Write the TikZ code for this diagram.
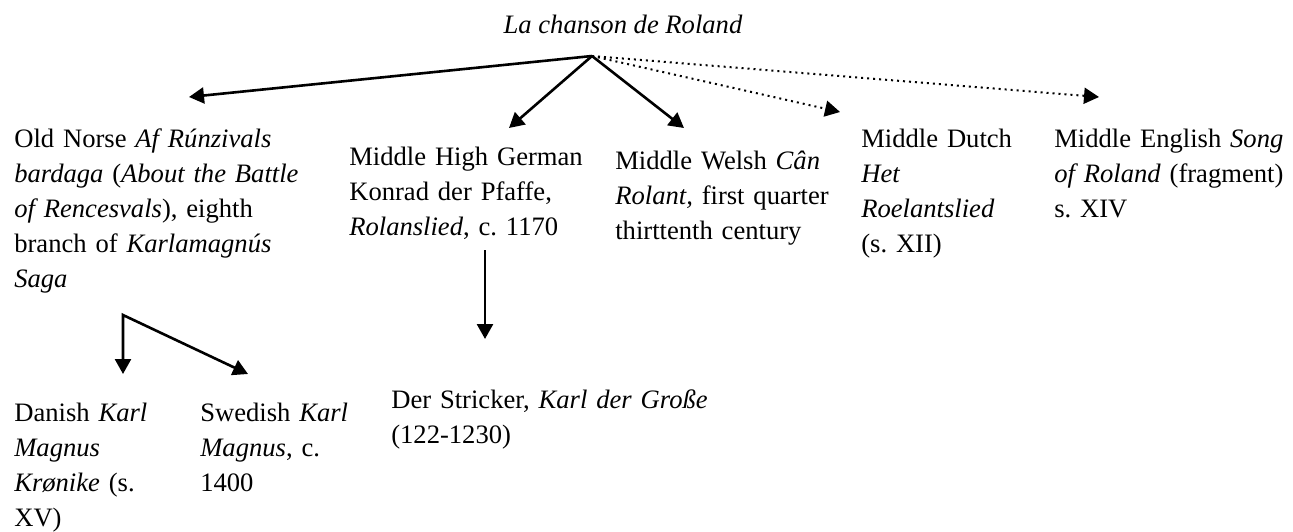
\documentclass[tikz,border=0pt]{standalone}
\usepackage{fontspec}
\setmainfont{Liberation Serif}
\frenchspacing
\usetikzlibrary{arrows.meta}

\begin{document}
\begin{tikzpicture}[
    x=0.5pt, y=-0.5pt,
    txt/.style={anchor=base west, align=left, inner sep=0pt, text width=6cm,
                font=\fontsize{13.3}{17.5}\selectfont},
    >={Triangle[length=7.5pt,width=8pt]},
    line width=1.3pt
]
\useasboundingbox (0,0) rectangle (1293,531);

\node[txt, anchor=base, text width=] (roland) at (623,33) {\textit{La chanson de Roland}};

\node[txt] (norse) at (13,147) {Old Norse \textit{Af Rúnzivals}\\
  \textit{bardaga} (\textit{About the Battle}\\
  \textit{of Rencesvals}), eighth\\
  branch of \textit{Karlamagnús}\\
  \textit{Saga}};
\node[txt] (mhg) at (348,165) {Middle High German\\
  Konrad der Pfaffe,\\
  \textit{Rolanslied}, c. 1170};
\node[txt] (welsh) at (614,169) {Middle Welsh \textit{Cân}\\
  \textit{Rolant,} first quarter\\
  thirttenth century};
\node[txt] (dutch) at (860,147) {Middle Dutch\\
  \textit{Het}\\
  \textit{Roelantslied}\\
  (s. XII)};
\node[txt] (english) at (1053,147) {Middle English \textit{Song}\\
  \textit{of Roland} (fragment)\\
  s. XIV};

\node[txt] (danish) at (13,421) {Danish \textit{Karl}\\
  \textit{Magnus}\\
  \textit{Krønike} (s.\\
  XV)};
\node[txt] (swedish) at (199,421) {Swedish \textit{Karl}\\
  \textit{Magnus}, c.\\
  1400};
\node[txt] (stricker) at (390,408) {Der Stricker, \textit{Karl der Große}\\
  (122-1230)};

% branching points and arrow ends
\coordinate (apex) at (592,56);
\coordinate (to-norse) at (189,97);
\coordinate (to-mhg) at (509,128);
\coordinate (to-welsh) at (684,128);
\coordinate (to-dutch) at (840,112);
\coordinate (to-english) at (1099,97);
\coordinate (fork) at (123,315);
\coordinate (to-danish) at (123,374);
\coordinate (to-swedish) at (248,374);
\coordinate (mhg-foot) at (485,250);
\coordinate (to-stricker) at (485,339);

\draw[->] (apex) -- (to-norse);
\draw[->] (apex) -- (to-mhg);
\draw[->] (apex) -- (to-welsh);
\draw[->, dotted, line width=1pt] (apex) -- (to-dutch);
\draw[->, dotted, line width=1pt] (apex) -- (to-english);

\draw[<->] (to-danish) -- (fork) -- (to-swedish);
\draw[->] (mhg-foot) -- (to-stricker);

\end{tikzpicture}
\end{document}
